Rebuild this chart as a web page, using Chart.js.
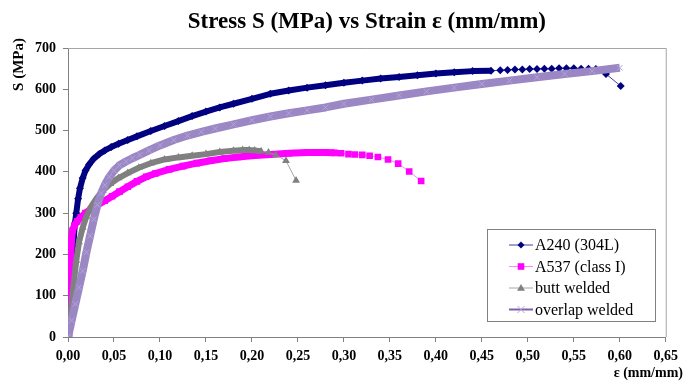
<!DOCTYPE html>
<html>
<head>
<meta charset="utf-8">
<script src="https://cdn.jsdelivr.net/npm/chart.js"></script>
<style>
  body { margin: 0; background: #fff; }
  canvas { display: block; }
</style>
</head>
<body>
<canvas id="myChart" width="684" height="382"></canvas>
<script>
// strain (mm/mm) and stress (MPa)
const a240Strain = [0, 0.002, 0.004, 0.006, 0.0075, 0.009, 0.011, 0.013, 0.016, 0.019, 0.023, 0.028, 0.034, 0.040, 0.047, 0.055, 0.065, 0.075, 0.09, 0.105, 0.12, 0.135, 0.15, 0.165, 0.18, 0.20, 0.22, 0.24, 0.26, 0.28, 0.30, 0.32, 0.34, 0.36, 0.38, 0.40, 0.42, 0.44, 0.46, 0.47, 0.478, 0.486, 0.494, 0.502, 0.510, 0.518, 0.526, 0.534, 0.542, 0.550, 0.558, 0.566, 0.574, 0.585, 0.601];
const a240Stress = [0, 75, 150, 230, 275, 300, 335, 360, 385, 403, 418, 432, 443, 452, 460, 468, 477, 486, 499, 511, 523, 535, 546, 556, 565, 577, 589, 597, 604, 610, 616, 621, 626, 630, 634, 638, 641, 644, 645, 646, 647, 648, 648, 649, 649, 650, 650, 651, 651, 651, 650, 650, 649, 637, 608];

const a537Strain = [0, 0.001, 0.002, 0.003, 0.004, 0.005, 0.007, 0.010, 0.014, 0.019, 0.025, 0.032, 0.040, 0.048, 0.056, 0.065, 0.075, 0.085, 0.095, 0.11, 0.125, 0.14, 0.155, 0.17, 0.185, 0.20, 0.22, 0.24, 0.26, 0.28, 0.29, 0.297, 0.305, 0.312, 0.320, 0.328, 0.337, 0.348, 0.359, 0.371, 0.384];
const a537Stress = [0, 70, 140, 200, 240, 258, 270, 280, 290, 300, 310, 320, 330, 341, 352, 364, 377, 388, 396, 406, 414, 421, 427, 432, 436, 439, 442, 445, 447, 447, 446, 445, 443, 442, 441, 439, 436, 430, 420, 401, 378];

const buttStrain = [0, 0.003, 0.006, 0.009, 0.012, 0.016, 0.020, 0.025, 0.031, 0.038, 0.046, 0.055, 0.065, 0.077, 0.09, 0.105, 0.12, 0.135, 0.15, 0.165, 0.18, 0.19, 0.197, 0.203, 0.210, 0.218, 0.226, 0.237, 0.248];
const buttStress = [0, 60, 125, 185, 230, 265, 292, 315, 336, 355, 371, 385, 397, 410, 421, 430, 435, 439, 443, 448, 451, 453, 453, 452, 450, 447, 441, 427, 379];

const overlapStrain = [0, 0.004, 0.008, 0.012, 0.016, 0.020, 0.024, 0.028, 0.032, 0.036, 0.040, 0.045, 0.050, 0.056, 0.063, 0.070, 0.078, 0.088, 0.10, 0.115, 0.13, 0.145, 0.16, 0.18, 0.20, 0.22, 0.24, 0.26, 0.28, 0.30, 0.33, 0.36, 0.39, 0.42, 0.45, 0.48, 0.51, 0.54, 0.57, 0.60];
const overlapStress = [0, 40, 80, 120, 160, 205, 245, 285, 320, 348, 368, 388, 403, 416, 425, 433, 441, 452, 464, 477, 488, 497, 505, 515, 525, 534, 542, 549, 556, 565, 575, 585, 595, 604, 613, 621, 629, 637, 644, 652];

const seriesNames = ['A240 (304L)', 'A537 (class I)', 'butt welded', 'overlap welded'];
const xTicks = [0, 0.05, 0.10, 0.15, 0.20, 0.25, 0.30, 0.35, 0.40, 0.45, 0.50, 0.55, 0.60, 0.65];
const yTicks = [0, 100, 200, 300, 400, 500, 600, 700];

const pairs = (xs, ys) => xs.map((x, i) => ({ x: x, y: ys[i] }));

// look of each series: band = thick part, tail = thin line after tailFrom
const looks = [
  { marker: 'diamond', mColor: '#000080', size: 4, band: '#000080', bandW: 6, thin: '#40409a', tailFrom: 0.46, order: 4 },
  { marker: 'square', mColor: '#ff00ff', size: 3.3, band: '#ff00ff', bandW: 7, thin: '#ff80ff', tailFrom: 0.29, order: 3 },
  { marker: 'triangle', mColor: '#808080', size: 4.5, band: '#808080', bandW: 6, thin: '#a6a6a6', tailFrom: 0.21, order: 2 },
  { marker: 'cross', mColor: '#b4a4d8', size: 4, band: '#9a87c4', bandW: 8, thin: '#7f5fa8', tailFrom: 9, order: 1 }
];

const styleMap = { diamond: 'rectRot', square: 'rect', triangle: 'triangle', cross: 'crossRot' };
const allData = [pairs(a240Strain, a240Stress), pairs(a537Strain, a537Stress), pairs(buttStrain, buttStress), pairs(overlapStrain, overlapStress)];

const datasets = allData.map((d, i) => {
  const lk = looks[i];
  return {
    label: seriesNames[i],
    data: d,
    showLine: true,
    order: lk.order,
    borderColor: lk.band,
    borderWidth: lk.bandW,
    borderJoinStyle: 'round',
    pointStyle: styleMap[lk.marker],
    pointRadius: lk.marker == 'square' ? lk.size * 1.42 : lk.size,
    pointBackgroundColor: lk.mColor,
    pointBorderColor: lk.mColor,
    pointBorderWidth: lk.marker == 'cross' ? 1 : 0,
    segment: {
      borderWidth: c => (d[c.p0DataIndex].x >= lk.tailFrom ? 1 : lk.bandW),
      borderColor: c => (d[c.p0DataIndex].x >= lk.tailFrom ? lk.thin : lk.band)
    }
  };
});

function drawMarker(ctx, kind, x, y, r, color) {
  ctx.fillStyle = color;
  ctx.strokeStyle = color;
  ctx.lineWidth = 1;
  ctx.beginPath();
  if (kind == 'diamond') {
    ctx.moveTo(x, y - r); ctx.lineTo(x + r, y); ctx.lineTo(x, y + r); ctx.lineTo(x - r, y); ctx.closePath(); ctx.fill();
  } else if (kind == 'square') {
    ctx.fillRect(x - r, y - r, 2 * r, 2 * r);
  } else if (kind == 'triangle') {
    ctx.moveTo(x, y - r); ctx.lineTo(x + r, y + r * 0.7); ctx.lineTo(x - r, y + r * 0.7); ctx.closePath(); ctx.fill();
  } else {
    ctx.moveTo(x - r, y - r); ctx.lineTo(x + r, y + r); ctx.moveTo(x + r, y - r); ctx.lineTo(x - r, y + r); ctx.stroke();
  }
}

const extras = {
  id: 'extras',
  beforeDatasetsDraw(chart) {
    const { ctx, chartArea: a } = chart;
    ctx.save();
    ctx.strokeStyle = '#a6a6a6';
    ctx.lineWidth = 1;
    ctx.beginPath();
    ctx.moveTo(a.left, a.top + 0.5); ctx.lineTo(a.right + 0.5, a.top + 0.5); ctx.lineTo(a.right + 0.5, a.bottom);
    ctx.stroke();
    ctx.restore();
  },
  afterDraw(chart) {
    const { ctx } = chart;
    ctx.save();
    ctx.fillStyle = '#000';
    // axis titles
    ctx.font = 'bold 14px "Liberation Serif"';
    ctx.textAlign = 'right';
    ctx.textBaseline = 'middle';
    ctx.fillText('ε (mm/mm)', 683, 373);
    ctx.save();
    ctx.translate(19, 38);
    ctx.rotate(-Math.PI / 2);
    ctx.font = 'bold 15px "Liberation Serif"';
    ctx.textAlign = 'right';
    ctx.fillText('S (MPa)', 0, 0);
    ctx.restore();
    // legend
    ctx.fillStyle = '#fff';
    ctx.fillRect(487, 229, 168, 92);
    ctx.strokeStyle = '#808080';
    ctx.lineWidth = 1;
    ctx.strokeRect(487.5, 229.5, 168, 92);
    ctx.font = '16px "Liberation Serif"';
    ctx.textAlign = 'left';
    seriesNames.forEach((name, i) => {
      const lk = looks[i];
      const y = 245 + i * 21.5;
      ctx.strokeStyle = lk.thin;
      ctx.lineWidth = i == 3 ? 2 : 1;
      ctx.beginPath();
      ctx.moveTo(509, y); ctx.lineTo(533, y);
      ctx.stroke();
      drawMarker(ctx, lk.marker, 521, y, lk.marker == 'square' ? 3.3 : lk.size - 0.5, lk.mColor);
      ctx.fillStyle = '#000';
      ctx.fillText(name, 535, y + 1);
    });
    ctx.restore();
  }
};

const tickFont = { family: 'Liberation Serif', weight: 'bold', size: 14 };

new Chart(document.getElementById('myChart'), {
  type: 'scatter',
  data: { datasets: datasets },
  options: {
    responsive: false,
    animation: false,
    layout: { padding: { left: 0, right: 13, top: 0, bottom: 0 } },
    plugins: {
      legend: { display: false },
      tooltip: { enabled: false },
      title: {
        display: true,
        text: 'Stress S (MPa) vs Strain ε (mm/mm)',
        fullSize: false,
        color: '#000',
        font: { family: 'Liberation Serif', weight: 'bold', size: 23, lineHeight: 1.2 },
        padding: { top: 8.5, bottom: 11.9 }
      }
    },
    scales: {
      x: {
        type: 'linear',
        min: 0,
        max: 0.65,
        afterBuildTicks: s => { s.ticks = xTicks.map(v => ({ value: v })); },
        afterFit: s => { s.height = 45; },
        grid: { display: true, drawOnChartArea: false, drawTicks: true, tickLength: 5, color: '#808080' },
        border: { color: '#808080' },
        ticks: {
          color: '#000',
          font: tickFont,
          padding: 6,
          maxRotation: 0,
          callback: v => v.toFixed(2).replace('.', ',')
        }
      },
      y: {
        min: 0,
        max: 700,
        afterBuildTicks: s => { s.ticks = yTicks.map(v => ({ value: v })); },
        afterFit: s => { s.width = 68; },
        grid: { display: true, drawOnChartArea: false, drawTicks: true, tickLength: 5, color: '#808080' },
        border: { color: '#808080' },
        ticks: { color: '#000', font: tickFont, padding: 7 }
      }
    }
  },
  plugins: [extras]
});
</script>
</body>
</html>
